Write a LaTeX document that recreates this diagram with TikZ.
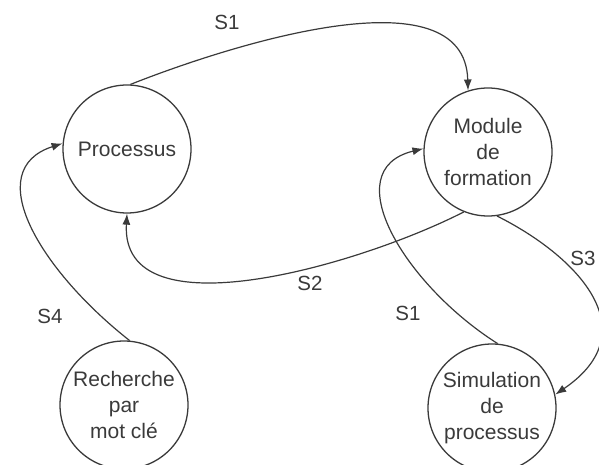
\documentclass[tikz,border=0pt]{standalone}
\usepackage{fontspec}
\setmainfont{Liberation Sans}
\usetikzlibrary{arrows.meta}
\definecolor{ink}{HTML}{3A3A3A}
\tikzset{
  state/.style={circle, draw=ink, line width=1.3pt, minimum size=128pt, inner sep=0pt,
    align=center, text=ink, font=\fontsize{21}{26}\selectfont},
  conn/.style={draw=ink, line width=1.2pt, -{Latex[length=11pt,width=8pt]}},
  lbl/.style={text=ink, font=\fontsize{20.5}{24}\selectfont, inner sep=0pt}
}
\begin{document}
\begin{tikzpicture}[x=1pt,y=-1pt]
\useasboundingbox (0,0) rectangle (599,465);
\node[state] (P) at (127,149) {Processus};
\node[state] (M) at (488,152) {Module\\de\\formation};
\node[state] (R) at (124,405) {Recherche\\par\\mot clé};
\node[state] (S) at (492,408) {Simulation\\de\\processus};

\draw[conn] (P.87) .. controls (230,45) and (465,-30) .. (M.108);
\draw[conn] (M.248) .. controls (360,265) and (120,335) .. (P.270);
\draw[conn] (M.278) .. controls (575,255) and (650,330) .. (S.12);
\draw[conn] (S.85) .. controls (405,285) and (335,170) .. (M.177);
\draw[conn] (R.85) .. controls (40,270) and (-20,170) .. (P.175);

\node[lbl] (l1) at (227,22) {S1};
\node[lbl] (l2) at (310,283) {S2};
\node[lbl] (l3) at (583,258) {S3};
\node[lbl] (l4) at (50,316) {S4};
\node[lbl] (l5) at (408,313) {S1};
\end{tikzpicture}
\end{document}
